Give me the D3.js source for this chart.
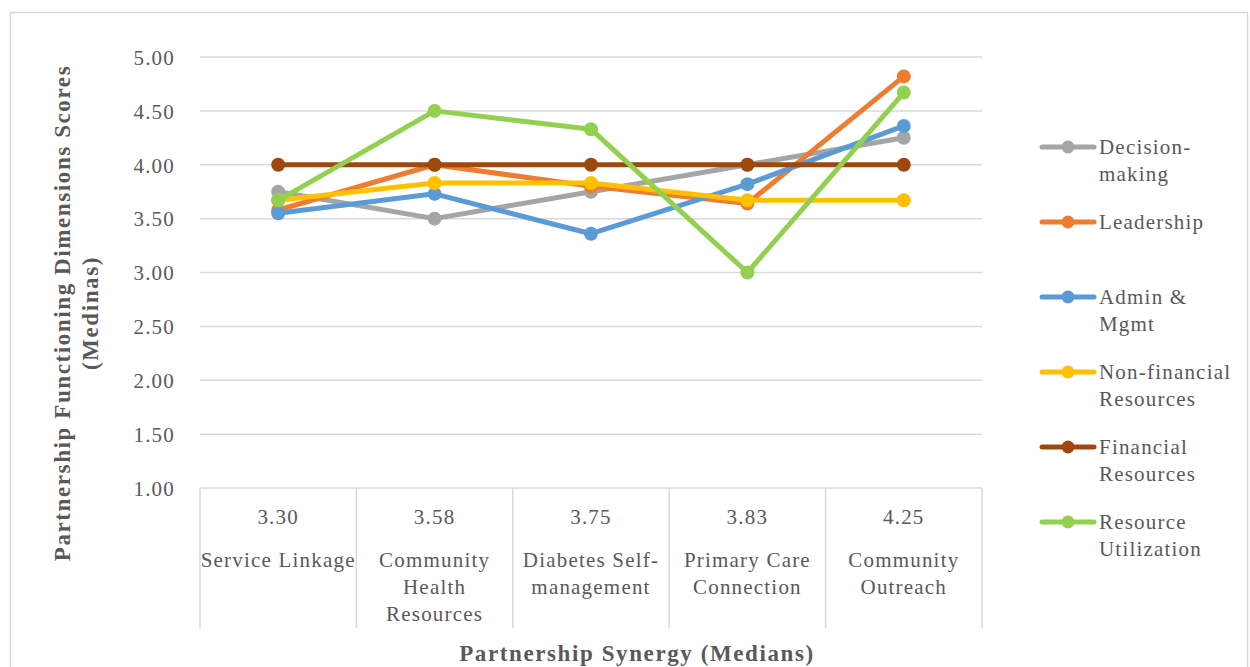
<!DOCTYPE html>
<html lang="en">
<head>
<meta charset="UTF-8">
<title>Partnership Synergy</title>
<style>
    html, body { margin: 0; padding: 0; background: #fff; }
    svg { display: block; }
    svg text { font-family: 'Liberation Serif', 'Times New Roman', serif; }
</style>
</head>
<body>
<div id="chart"></div>
<script src="https://d3js.org/d3.v7.min.js"></script>
<script>
    const categories = ["Service Linkage", "Community Health Resources", "Diabetes Self-management", "Primary Care Connection", "Community Outreach"];
    const synergy = ["3.30", "3.58", "3.75", "3.83", "4.25"];
    // wrapped like the original axis labels
    const catLines = [["Service Linkage"], ["Community", "Health", "Resources"], ["Diabetes Self-", "management"], ["Primary Care", "Connection"], ["Community", "Outreach"]];
    const yTicks = [1, 1.5, 2, 2.5, 3, 3.5, 4, 4.5, 5];

    const decisionMaking = [3.75, 3.50, 3.75, 4.00, 4.25];
    const leadership = [3.58, 4.00, 3.80, 3.64, 4.82];
    const adminMgmt = [3.55, 3.73, 3.36, 3.82, 4.36];
    const nonFinancial = [3.67, 3.83, 3.83, 3.67, 3.67];
    const financial = [4.00, 4.00, 4.00, 4.00, 4.00];
    const resourceUtil = [3.67, 4.50, 4.33, 3.00, 4.67];

    const series = [
        {name: ["Decision-", "making"], values: decisionMaking, color: "#A5A5A5"},
        {name: ["Leadership"], values: leadership, color: "#ED7D31"},
        {name: ["Admin &", "Mgmt"], values: adminMgmt, color: "#5B9BD5"},
        {name: ["Non-financial", "Resources"], values: nonFinancial, color: "#FFC000"},
        {name: ["Financial", "Resources"], values: financial, color: "#9E480E"},
        {name: ["Resource", "Utilization"], values: resourceUtil, color: "#92D050"}
    ];

    const W = 1250, H = 667;
    const plot = {left: 200, right: 982, top: 57, bottom: 488};
    const textColor = "#595959";

    const svg = d3.select("#chart").append("svg")
        .attr("width", W)
        .attr("height", H);

    // outer frame
    svg.append("rect")
        .attr("x", 10.5).attr("y", 12.5)
        .attr("width", 1237).attr("height", 680)
        .attr("fill", "none")
        .attr("stroke", "#d9d9d9")
        .attr("stroke-width", 1.5);

    const x = d3.scaleBand().domain(categories).range([plot.left, plot.right]);
    const y = d3.scaleLinear().domain([1, 5]).range([plot.bottom, plot.top]);

    // gridlines
    svg.append("g")
        .selectAll("line")
        .data(yTicks)
        .enter()
        .append("line")
        .attr("x1", plot.left).attr("x2", plot.right)
        .attr("y1", d => y(d)).attr("y2", d => y(d))
        .attr("stroke", "#d9d9d9")
        .attr("stroke-width", 1.5);

    // y tick labels
    const yAxis = svg.append("g")
        .attr("transform", `translate(${plot.left - 22},0)`)
        .call(d3.axisLeft(y).tickValues(yTicks).tickFormat(d3.format(".2f")).tickSize(0));
    yAxis.select(".domain").remove();
    yAxis.selectAll("text")
        .attr("fill", textColor)
        .attr("dy", "0.35em")
        .style("font-size", "21px")
        .style("letter-spacing", "1.2px");

    // x axis drawn as a table
    const bounds = categories.map(c => x(c)).concat([plot.right]);
    svg.append("g")
        .selectAll("line")
        .data(bounds)
        .enter()
        .append("line")
        .attr("x1", d => d).attr("x2", d => d)
        .attr("y1", plot.bottom).attr("y2", 628)
        .attr("stroke", "#d9d9d9")
        .attr("stroke-width", 1.5);

    const xg = svg.append("g");
    xg.selectAll("text.syn")
        .data(synergy)
        .enter()
        .append("text")
        .attr("class", "syn")
        .attr("x", (d, i) => x(categories[i]) + x.bandwidth() / 2)
        .attr("y", 524)
        .attr("text-anchor", "middle")
        .attr("fill", textColor)
        .style("font-size", "21px")
        .style("letter-spacing", "1.2px")
        .text(d => d);

    xg.selectAll("text.cat")
        .data(catLines)
        .enter()
        .append("text")
        .attr("class", "cat")
        .attr("text-anchor", "middle")
        .attr("fill", textColor)
        .style("font-size", "21px")
        .style("letter-spacing", "1.2px")
        .selectAll("tspan")
        .data((d, i) => d.map(t => ({t: t, cx: x(categories[i]) + x.bandwidth() / 2})))
        .enter()
        .append("tspan")
        .attr("x", d => d.cx)
        .attr("y", (d, i) => 567 + i * 27)
        .text(d => d.t);

    // lines
    const line = d3.line()
        .x((d, i) => x(categories[i]) + x.bandwidth() / 2)
        .y(d => y(d));

    series.forEach(s => {
        const g = svg.append("g");
        g.append("path")
            .datum(s.values)
            .attr("d", line)
            .attr("fill", "none")
            .attr("stroke", s.color)
            .attr("stroke-width", 5)
            .attr("stroke-linejoin", "round");
        g.selectAll("circle")
            .data(s.values)
            .enter()
            .append("circle")
            .attr("cx", (d, i) => x(categories[i]) + x.bandwidth() / 2)
            .attr("cy", d => y(d))
            .attr("r", 7)
            .attr("fill", s.color);
    });

    // legend
    const legend = svg.append("g");
    series.forEach((s, i) => {
        const ly = 147 + i * 75;
        const item = legend.append("g").attr("class", "legend-item");
        item.append("line")
            .attr("x1", 1042).attr("x2", 1094)
            .attr("y1", ly).attr("y2", ly)
            .attr("stroke", s.color)
            .attr("stroke-width", 5)
            .attr("stroke-linecap", "round");
        item.append("circle")
            .attr("cx", 1068).attr("cy", ly)
            .attr("r", 6.5)
            .attr("fill", s.color);
        item.append("text")
            .attr("fill", textColor)
            .style("font-size", "21px")
            .style("letter-spacing", "1.2px")
            .selectAll("tspan")
            .data(s.name)
            .enter()
            .append("tspan")
            .attr("x", 1099)
            .attr("y", (d, j) => ly + 7 + j * 27)
            .text(d => d);
    });

    // axis titles
    svg.append("text")
        .attr("x", 637)
        .attr("y", 661)
        .attr("text-anchor", "middle")
        .attr("fill", textColor)
        .style("font-size", "23px")
        .style("font-weight", "bold")
        .style("letter-spacing", "1.6px")
        .text("Partnership Synergy (Medians)");

    svg.append("text")
        .attr("transform", "rotate(-90)")
        .attr("text-anchor", "middle")
        .attr("fill", textColor)
        .style("font-size", "23px")
        .style("font-weight", "bold")
        .style("letter-spacing", "1.6px")
        .selectAll("tspan")
        .data(["Partnership Functioning Dimensions Scores", "(Medinas)"])
        .enter()
        .append("tspan")
        .attr("x", -313)
        .attr("y", (d, i) => 70 + i * 28)
        .text(d => d);
</script>
</body>
</html>
